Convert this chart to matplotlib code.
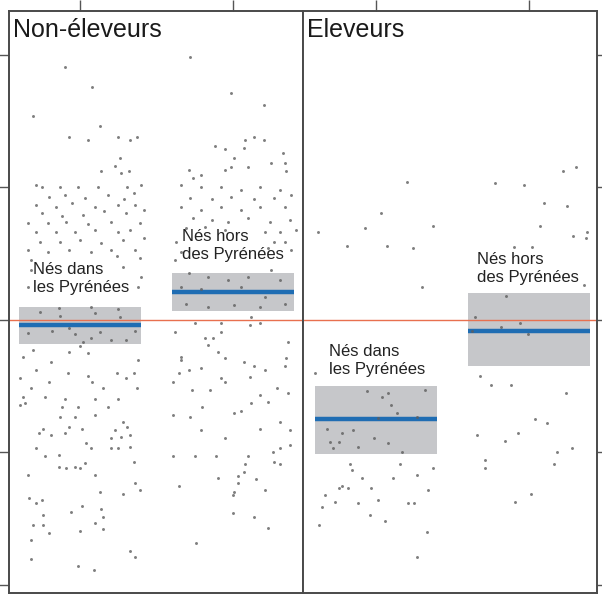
import numpy as np
import matplotlib
matplotlib.use('Agg')
import matplotlib.pyplot as plt

plt.rcParams['font.family'] = ['Liberation Sans', 'DejaVu Sans']

# panel titles and group labels
panels = ['Non-éleveurs', 'Eleveurs']
group_labels = ['Nés dans\nles Pyrénées', 'Nés hors\ndes Pyrénées']

# individual scores, Non-éleveurs nés dans les Pyrénées (x = jitter around group)
a_x = [-0.10, 0.08, -0.31, 0.13, -0.07, 0.05, 0.25, 0.33, 0.37, 0.26, 0.23, 0.14, 0.27, 0.32,
       -0.29, -0.25, -0.13, -0.01, 0.12, 0.31, 0.40, -0.20, -0.10, 0.03, 0.18, 0.29, 0.35,
       -0.29, -0.16, -0.05, 0.10, 0.25, 0.36, 0.42, -0.25, -0.12, 0.02, 0.16, 0.30,
       -0.34, -0.21, -0.09, 0.05, 0.20, 0.39, -0.29, -0.16, -0.03, 0.10, 0.25, 0.33,
       -0.26, -0.13, 0.00, 0.14, 0.28, 0.42, -0.34, -0.21, -0.07, 0.07, 0.20, 0.36,
       -0.32, 0.24, 0.39, -0.32, 0.28, 0.40, -0.34, 0.38, -0.14, 0.07, 0.25,
       -0.26, -0.13, 0.10, 0.26, 0.36, -0.07, 0.13, -0.34, -0.18, -0.03, 0.07, 0.20, 0.30,
       0.02, 0.00, -0.07, 0.05, -0.37, -0.31, -0.19, 0.38, -0.29, -0.08, 0.05, 0.24, 0.30, 0.35,
       -0.39, -0.20, 0.08, -0.32, 0.15, 0.37, -0.37, -0.23, -0.10, 0.10, 0.25, -0.36, -0.39,
       -0.12, 0.18, -0.01, -0.13, -0.03, 0.10, 0.28, -0.24, -0.07, 0.23, 0.31, -0.27, -0.19,
       -0.10, 0.01, 0.20, 0.27, 0.33, -0.29, 0.04, 0.07, 0.20, 0.25, 0.33, -0.23, -0.14,
       -0.14, -0.09, -0.03, 0.00, 0.03, -0.34, 0.10, 0.35, 0.36, 0.28, 0.39, 0.13, -0.33, -0.25,
       -0.29, 0.01, -0.06, 0.14, -0.24, 0.15, -0.31, -0.24, 0.10, -0.20, 0.00, 0.15, -0.32,
       0.33, 0.36, -0.32, -0.01, 0.09]
a_y = [1.91, 1.76, 1.54, 1.46, 1.38, 1.36, 1.38, 1.36, 1.38, 1.22, 1.16, 1.12, 1.11, 1.12,
       1.02, 1.00, 1.00, 1.00, 1.00, 1.00, 1.02, 0.93, 0.94, 0.92, 0.94, 0.91, 0.96,
       0.87, 0.85, 0.88, 0.85, 0.87, 0.87, 0.83, 0.81, 0.78, 0.79, 0.82, 0.81,
       0.73, 0.73, 0.74, 0.72, 0.74, 0.73, 0.66, 0.66, 0.66, 0.68, 0.66, 0.68,
       0.59, 0.59, 0.60, 0.58, 0.60, 0.62, 0.53, 0.51, 0.53, 0.51, 0.53, 0.53,
       0.45, 0.48, 0.47, 0.38, 0.40, 0.32, 0.25, 0.25, 0.09, 0.10, 0.08,
       0.06, 0.03, 0.05, 0.02, -0.08, -0.06, -0.09, -0.10, -0.08, -0.11, -0.14, -0.15, -0.15,
       -0.17, -0.20, -0.24, -0.25, -0.28, -0.23, -0.32, -0.30, -0.38, -0.40, -0.42, -0.40, -0.44, -0.40,
       -0.44, -0.47, -0.47, -0.51, -0.51, -0.51, -0.58, -0.58, -0.60, -0.60, -0.60, -0.63, -0.64,
       -0.66, -0.66, -0.66, -0.73, -0.73, -0.72, -0.77, -0.82, -0.81, -0.83, -0.81, -0.85, -0.87,
       -0.85, -0.82, -0.89, -0.88, -0.87, -0.97, -0.93, -0.97, -0.97, -0.97, -0.96, -1.03, -1.02,
       -1.11, -1.12, -1.11, -1.12, -1.08, -1.17, -1.17, -1.07, -1.23, -1.31, -1.28, -1.30, -1.34, -1.36,
       -1.38, -1.40, -1.45, -1.43, -1.47, -1.49, -1.55, -1.55, -1.53, -1.61, -1.59, -1.58, -1.66,
       -1.74, -1.79, -1.80, -1.86, -1.89]

# Non-éleveurs nés hors des Pyrénées
b_x = [-0.28, -0.01, 0.20, -0.12, -0.05, 0.08, 0.14, 0.20, 0.07, 0.01, 0.33, 0.25, 0.34,
       -0.29, -0.05, -0.01, 0.10, 0.35, -0.21, -0.26, -0.34, -0.21, -0.08, 0.05, 0.18, 0.31,
       -0.28, -0.14, -0.01, 0.14, 0.27, 0.38, -0.34, -0.21, -0.08, 0.05, 0.18, 0.34,
       -0.26, -0.14, -0.03, 0.10, 0.24, 0.37, -0.31, -0.18, -0.05, 0.21, 0.31, 0.41,
       -0.37, 0.27, 0.34, -0.34, 0.23, 0.38, -0.38, 0.25, -0.29, -0.16, -0.03, 0.10, 0.31,
       -0.34, -0.21, 0.05, 0.21, -0.31, -0.16, 0.01, 0.18, 0.34, 0.12,
       -0.38, -0.25, -0.08, -0.08, -0.18, -0.13, -0.16, 0.11, 0.18, 0.36, -0.10, -0.34, -0.34,
       -0.05, 0.07, 0.14, 0.11, 0.21, 0.35, 0.34, -0.35, -0.29, -0.21, -0.08, -0.05, -0.39,
       -0.27, -0.15, 0.29, 0.18, 0.23, 0.12, 0.36, -0.20, -0.39, -0.28, 0.01, 0.05,
       -0.21, 0.18, 0.31, 0.37, -0.05, 0.26, 0.31, 0.37, -0.39, -0.25, -0.11, 0.10,
       -0.10, 0.03, 0.08, 0.07, 0.15, 0.03, 0.01, 0.00, 0.21, 0.27, 0.31, -0.35,
       0.00, 0.14, 0.23, -0.24]
b_y = [1.98, 1.71, 1.62, 1.31, 1.29, 1.36, 1.38, 1.36, 1.30, 1.22, 1.26, 1.18, 1.18,
       1.13, 1.13, 1.15, 1.15, 1.12, 1.09, 1.07, 1.02, 1.00, 1.00, 0.98, 1.00, 0.98,
       0.92, 0.91, 0.93, 0.91, 0.92, 0.94, 0.85, 0.83, 0.85, 0.83, 0.85, 0.85,
       0.77, 0.75, 0.74, 0.77, 0.74, 0.75, 0.69, 0.70, 0.68, 0.66, 0.66, 0.68,
       0.59, 0.59, 0.59, 0.51, 0.54, 0.53, 0.45, 0.38, 0.35, 0.32, 0.30, 0.32, 0.30,
       0.25, 0.23, 0.25, 0.17, 0.12, 0.10, 0.11, 0.10, 0.12, 0.02,
       -0.09, -0.02, -0.02, -0.09, -0.14, -0.14, -0.19, -0.04, -0.02, -0.17, -0.24, -0.28, -0.30,
       -0.29, -0.32, -0.35, -0.43, -0.38, -0.29, -0.35, -0.40, -0.38, -0.36, -0.44, -0.47, -0.47,
       -0.53, -0.53, -0.51, -0.57, -0.62, -0.63, -0.55, -0.66, -0.72, -0.73, -0.70, -0.69,
       -0.83, -0.82, -0.77, -0.83, -0.89, -1.00, -0.97, -0.94, -1.03, -1.03, -1.03, -1.03,
       -1.19, -1.18, -1.09, -1.15, -1.20, -1.23, -1.30, -1.32, -1.28, -1.07, -1.09, -1.25,
       -1.46, -1.49, -1.57, -1.68]

# Eleveurs nés dans les Pyrénées
c_x = [0.20, 0.03, -0.07, -0.38, 0.37, -0.19, 0.07, 0.24, 0.30, -0.40, -0.06, 0.04, 0.08,
       0.32, 0.10, 0.14, 0.01, 0.27, -0.32, -0.22, -0.15, -0.30, -0.24, -0.28, -0.12, -0.01,
       0.08, 0.17, -0.17, 0.16, 0.27, 0.37, -0.16, -0.09, 0.11, -0.22, -0.24, -0.18, -0.03,
       0.34, -0.33, -0.27, -0.12, 0.01, 0.21, 0.25, -0.35, -0.04, 0.06, -0.37, 0.33, 0.27]
c_y = [1.04, 0.81, 0.69, 0.66, 0.71, 0.56, 0.56, 0.54, 0.25, -0.40, -0.54, -0.58, -0.55,
       -0.53, -0.64, -0.70, -0.74, -0.73, -0.82, -0.85, -0.83, -0.92, -0.92, -0.97, -0.96, -0.89,
       -0.93, -1.00, -1.09, -1.09, -1.17, -1.12, -1.13, -1.19, -1.19, -1.25, -1.27, -1.27, -1.27,
       -1.28, -1.32, -1.37, -1.38, -1.36, -1.38, -1.38, -1.41, -1.47, -1.52, -1.55, -1.60, -1.79]

# Eleveurs nés hors des Pyrénées
d_x = [-0.22, -0.03, 0.22, 0.31, 0.10, 0.25, 0.07, 0.29, 0.38, 0.37, -0.10, 0.02, 0.36,
       -0.15, -0.35, -0.18, -0.06, -0.01, -0.37, -0.32, -0.25, -0.12, 0.24, 0.04, 0.12,
       -0.07, -0.16, -0.34, 0.28, 0.18, 0.16, -0.29, -0.29, 0.01, -0.09]
d_y = [1.03, 1.02, 1.12, 1.15, 0.88, 0.86, 0.71, 0.63, 0.66, 0.62, 0.55, 0.55, 0.26,
       0.18, 0.02, -0.05, -0.02, -0.11, -0.08, -0.42, -0.49, -0.49, -0.55, -0.75, -0.78,
       -0.85, -0.91, -0.87, -0.97, -1.00, -1.09, -1.06, -1.12, -1.31, -1.37]

# group means and confidence band (non-éleveurs dans, hors ; éleveurs dans, hors)
means = [-0.04, 0.21, -0.75, -0.08]
lower = [-0.18, 0.07, -1.01, -0.35]
upper = [0.10, 0.35, -0.50, 0.20]

points = [(a_x, a_y), (b_x, b_y), (c_x, c_y), (d_x, d_y)]
label_pos = [(0.69, 0.31), (1.67, 0.56), (0.69, -0.31), (1.66, 0.385)]

fig = plt.figure(figsize=(6.02, 5.95), dpi=100)
ax1 = fig.add_axes([9 / 602, 2 / 595, 294 / 602, 582 / 595])
ax2 = fig.add_axes([303 / 602, 2 / 595, 294 / 602, 582 / 595])
axes = [ax1, ax2]
xlims = [(0.536, 2.458), (0.523, 2.444)]

for p, ax in enumerate(axes):
    ax.axhline(0, color='#e8704f', lw=1.0, zorder=2)
    for g in range(2):
        k = 2 * p + g
        xc = g + 1
        ax.fill_between([xc - 0.40, xc + 0.40], lower[k], upper[k],
                        color='#c6c7ca', lw=0, zorder=1)
        ax.plot([xc - 0.40, xc + 0.40], [means[k], means[k]],
                color='#1f6db3', lw=3.2, solid_capstyle='butt', zorder=3)
        px, py = points[k]
        ax.scatter(xc + np.array(px), py, s=4.5, color='#5e5e5e', lw=0,
                   alpha=0.8, zorder=4)
        lx, ly = label_pos[k]
        ax.text(lx, ly, group_labels[g], fontsize=12, color='#222222',
                va='center', ha='left', linespacing=1.25, zorder=5)
    ax.text(0.012, 0.967, panels[p], transform=ax.transAxes, fontsize=18,
            color='#1a1a1a', va='center', ha='left')
    ax.set_xlim(*xlims[p])
    ax.set_ylim(-2.06, 2.33)
    ax.set_xticks([1, 2])
    ax.set_yticks([-2, -1, 0, 1, 2])
    ax.tick_params(axis='x', which='both', top=True, bottom=False, labeltop=False,
                   labelbottom=False, direction='out', length=8, width=1, color='#555555')
    ax.tick_params(axis='y', which='both', left=(p == 0), right=(p == 1),
                   labelleft=False, labelright=False, direction='out', length=7,
                   width=1, color='#555555')
    for s in ax.spines.values():
        s.set_color('#4a4a4a')
        s.set_linewidth(1.4)

fig.savefig('out.png', dpi=100)
